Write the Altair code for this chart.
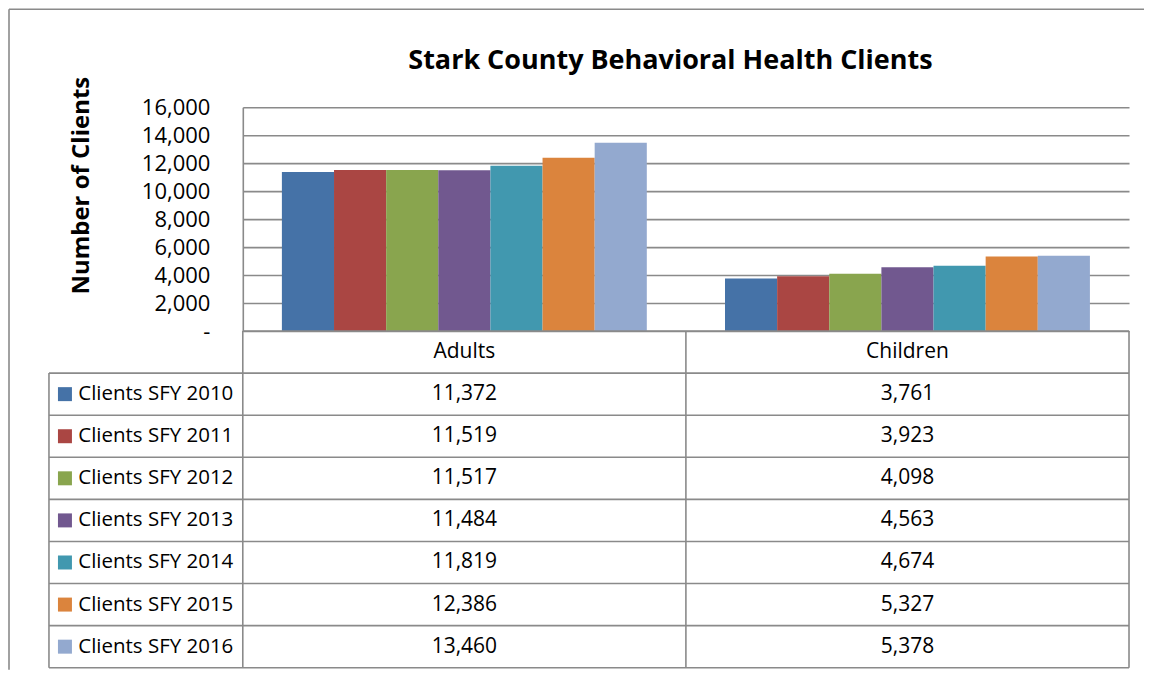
import altair as alt
import pandas as pd

# ---------------- data ----------------
title_text = "Stark County Behavioral Health Clients"
y_title = "Number of Clients"
categories = ["Adults", "Children"]
series = [
    "Clients SFY 2010",
    "Clients SFY 2011",
    "Clients SFY 2012",
    "Clients SFY 2013",
    "Clients SFY 2014",
    "Clients SFY 2015",
    "Clients SFY 2016",
]
adults = [11372, 11519, 11517, 11484, 11819, 12386, 13460]
children = [3761, 3923, 4098, 4563, 4674, 5327, 5378]
colors = ["#4572A7", "#AA4643", "#89A54E", "#71588F", "#4198AF", "#DB843D", "#93A9CF"]
y_ticks = [0, 2000, 4000, 6000, 8000, 10000, 12000, 14000, 16000]

records = []
for s, a, c in zip(series, adults, children):
    records.append({"category": "Adults", "row": s, "value": a})
    records.append({"category": "Children", "row": s, "value": c})
df = pd.DataFrame(records)

header_rows = ["Header"]
rows_domain = header_rows + series
header_df = pd.DataFrame({"category": categories, "row": ["Header"] * len(categories)})
legend_df = pd.DataFrame({"row": series})
one = pd.DataFrame({"k": [0]})

# ---------------- style ----------------
FONT = "Open Sans"
GRID = "#8a8a8a"
LW = 1.6
W, H = 887, 224
TH = 337
LEFT_COL = -194
TABLE_FS = 21

color = alt.Color("row:N", scale=alt.Scale(domain=series, range=colors), legend=None)

# ---------------- top: bars ----------------
bars = alt.Chart(df).mark_bar().encode(
    x=alt.X("category:N", scale=alt.Scale(domain=categories, paddingInner=0, paddingOuter=0), axis=None),
    xOffset=alt.XOffset("row:N", scale=alt.Scale(domain=series, paddingInner=0, paddingOuter=0.75)),
    y=alt.Y(
        "value:Q",
        scale=alt.Scale(domain=[0, 16000], nice=False),
        axis=alt.Axis(
            values=y_ticks,
            labelExpr="datum.value == 0 ? '-' : format(datum.value, ',')",
            grid=True, gridColor=GRID, gridWidth=LW,
            domainColor=GRID, domainWidth=LW,
            ticks=False, labelPadding=33,
            labelFont=FONT, labelFontSize=22, labelColor="black",
            title=y_title, titleFont=FONT, titleFontSize=24, titleFontWeight="bold",
            titleColor="black", titleX=-161, titleY=78, titleAngle=-90,
            titleBaseline="middle", titleAlign="center",
        ),
    ),
    color=color,
)

title_mark = alt.Chart(pd.DataFrame({"t": [title_text]})).mark_text(
    font=FONT, fontSize=27, fontWeight="bold", color="black", baseline="middle", align="center"
).encode(x=alt.value(428), y=alt.value(-46), text="t:N")

border_top = alt.Chart(one).mark_rule(color=GRID, strokeWidth=LW).encode(
    x=alt.value(-234), x2=alt.value(902), y=alt.value(-98)
)
border_left = alt.Chart(one).mark_rule(color=GRID, strokeWidth=LW).encode(
    x=alt.value(-234), y=alt.value(-98), y2=alt.value(563)
)

top = alt.layer(bars, title_mark, border_top, border_left).properties(width=W, height=H)

# ---------------- bottom: data table ----------------
xscale = alt.Scale(domain=categories, paddingInner=0, paddingOuter=0)
yscale = alt.Scale(domain=rows_domain, paddingInner=0, paddingOuter=0)
yaxis = alt.Axis(
    labelExpr="datum.value == 'Header' ? '' : datum.value",
    ticks=False, domain=False, labelPadding=10, labelLimit=400,
    labelFont=FONT, labelFontSize=20.5, labelColor="black", title=None,
)
y_enc = alt.Y("row:N", scale=yscale, axis=yaxis)
x_enc = alt.X("category:N", scale=xscale, axis=None)

values_text = alt.Chart(df).mark_text(font=FONT, fontSize=TABLE_FS, color="black").encode(
    x=x_enc, y=y_enc, text=alt.Text("value:Q", format=",")
)
header_text = alt.Chart(header_df).mark_text(font=FONT, fontSize=TABLE_FS, color="black").encode(
    x=x_enc, y=y_enc, text="category:N"
)
squares = alt.Chart(legend_df).mark_square(size=196, opacity=1).encode(
    x=alt.value(-178), y=y_enc, color=color
)
hlines = alt.Chart(legend_df).mark_rule(color=GRID, strokeWidth=LW).encode(
    y=alt.Y("row:N", scale=yscale, axis=yaxis, bandPosition=0),
    x=alt.value(LEFT_COL), x2=alt.value(W),
)
line_top = alt.Chart(one).mark_rule(color=GRID, strokeWidth=LW).encode(
    y=alt.value(0), x=alt.value(0), x2=alt.value(W)
)
line_bottom = alt.Chart(one).mark_rule(color=GRID, strokeWidth=LW).encode(
    y=alt.value(TH), x=alt.value(LEFT_COL), x2=alt.value(W)
)
vline_leftcol = alt.Chart(legend_df.head(1)).mark_rule(color=GRID, strokeWidth=LW).encode(
    x=alt.value(LEFT_COL),
    y=alt.Y("row:N", scale=yscale, axis=yaxis, bandPosition=0),
    y2=alt.value(TH),
)
vline_left = alt.Chart(one).mark_rule(color=GRID, strokeWidth=LW).encode(
    x=alt.value(0), y=alt.value(0), y2=alt.value(TH)
)
vline_right = alt.Chart(one).mark_rule(color=GRID, strokeWidth=LW).encode(
    x=alt.value(W), y=alt.value(0), y2=alt.value(TH)
)
vline_mid = alt.Chart(pd.DataFrame({"category": categories[1:]})).mark_rule(
    color=GRID, strokeWidth=LW
).encode(
    x=alt.X("category:N", scale=xscale, axis=None, bandPosition=0),
    y=alt.value(0), y2=alt.value(TH),
)

bottom = alt.layer(
    hlines, line_top, line_bottom, vline_leftcol, vline_left, vline_right, vline_mid,
    squares, values_text, header_text,
).properties(width=W, height=TH)

chart = (
    alt.vconcat(top, bottom, spacing=0, bounds="flush")
    .properties(padding=0, background="white")
    .configure_view(stroke=None)
)

chart.save("out.html", embed_options={"renderer": "svg", "actions": False})
